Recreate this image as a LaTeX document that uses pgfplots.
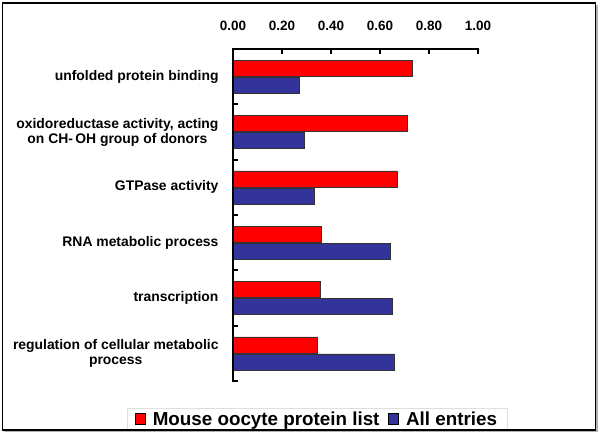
\documentclass[border=0pt]{standalone}
\usepackage{fontspec}
\setmainfont{Liberation Sans}
\usepackage{pgfplots}
\pgfplotsset{compat=1.18}
\definecolor{barred}{RGB}{255,0,0}
\definecolor{barblue}{RGB}{51,51,153}
\begin{document}
\begin{tikzpicture}
\useasboundingbox (0bp,0bp) rectangle (600bp,434bp);
\fill[white] (0bp,0bp) rectangle (600bp,434bp);
\begin{axis}[
    at={(233bp,53bp)}, anchor=south west,
    scale only axis, width=245bp, height=332bp,
    xbar,
    axis x line=top, axis y line=left,
    axis line style={-, line width=2.2bp, black},
    tick align=inside,
    xmin=0, xmax=1, ymin=-0.5, ymax=5.5,
    enlargelimits=false,
    xtick={0,0.2,0.4,0.6,0.8,1},
    /pgf/number format/fixed, /pgf/number format/fixed zerofill,
    /pgf/number format/precision=2, /pgf/number format/assume math mode=true,
    xticklabel style={font=\fontsize{13.5bp}{15bp}\selectfont\bfseries, yshift=15bp},
    ytick={-0.5,0.5,1.5,2.5,3.5,4.5,5.5},
    yticklabel=\empty,
    extra y ticks={0,1,2,3,4,5},
    extra y tick labels={{regulation of cellular metabolic\\process}, transcription, RNA metabolic process, GTPase activity, {oxidoreductase activity, acting\\on CH-\,OH group of donors}, unfolded protein binding},
    extra y tick style={major tick length=0pt, tick style={draw=none},
        yticklabel style={font=\fontsize{13.9bp}{15bp}\selectfont\bfseries, align=center, xshift=-11bp}},
    tick style={line width=2.2bp, black},
    major tick length=5bp,
    bar width=16bp,
    legend style={at={(rel axis cs:-0.433,-0.081)}, anchor=north west,
        draw=gray!25, font=\fontsize{18.8bp}{20bp}\selectfont\bfseries,
        inner xsep=8bp, inner ysep=2bp,
        /tikz/every odd column/.append style={column sep=5bp},
        /tikz/every even column/.append style={column sep=7bp}},
    legend columns=2,
    legend image code/.code={\draw[#1, draw=black, line width=0.7bp] (0bp,-5bp) rectangle (10bp,6bp);},
    extra description/.code={
        \draw[black, line width=2.2bp, line cap=rect] (rel axis cs:0,0) -- (rel axis cs:0,1) -- (rel axis cs:1,1);
    },
]
\addplot[fill=barred, draw=black!80, line width=0.6bp, bar shift=8.5bp] coordinates {
    (0.345,0) (0.355,1) (0.36,2) (0.67,3) (0.71,4) (0.73,5)
};
\addplot[fill=barblue, draw=black!80, line width=0.6bp, bar shift=-8.5bp] coordinates {
    (0.66,0) (0.65,1) (0.64,2) (0.33,3) (0.29,4) (0.27,5)
};
\legend{Mouse oocyte protein list, All entries}
\end{axis}
\draw[gray!60, line width=1.5bp] (4bp,2.5bp) -- (597bp,2.5bp) -- (597bp,429bp);
\draw[black, line width=1.5bp] (2.5bp,4bp) rectangle (595.5bp,431bp);
\end{tikzpicture}
\end{document}
